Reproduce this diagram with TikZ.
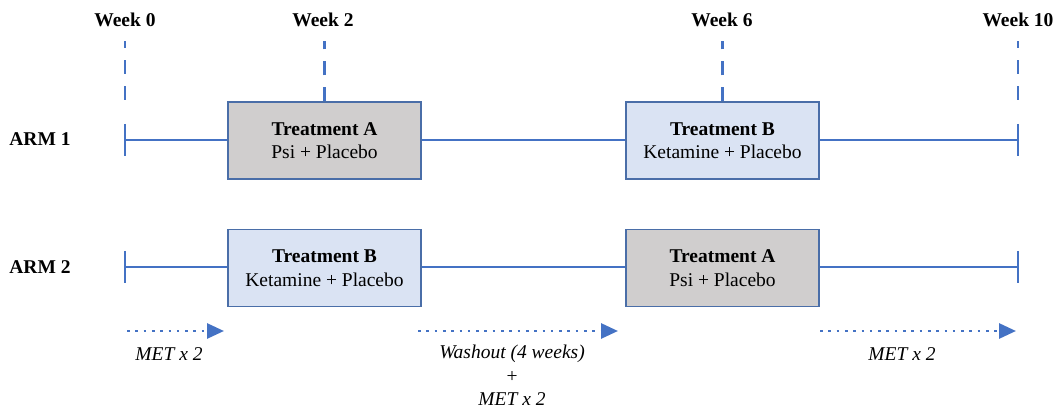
\documentclass[tikz,border=0pt]{standalone}
\usepackage{fontspec}
\setmainfont{Liberation Serif}
\usetikzlibrary{arrows.meta}
\definecolor{lineblue}{HTML}{4472C4}
\definecolor{boxedge}{HTML}{4A6EA8}
\definecolor{fillA}{HTML}{D0CECE}
\definecolor{fillB}{HTML}{DAE3F3}
\tikzset{
  every node/.style={font=\fontsize{19.5}{23.5}\selectfont, inner sep=0pt},
  weeklbl/.style={font=\fontsize{19.5}{23.5}\selectfont\bfseries},
  armlbl/.style={font=\fontsize{19.5}{23.5}\selectfont\bfseries},
  trtbox/.style={draw=boxedge, line width=1.3pt, minimum width=193pt, minimum height=77pt, align=center},
  trtA/.style={trtbox, fill=fillA},
  trtB/.style={trtbox, fill=fillB},
  armline/.style={draw=lineblue, line width=2.3pt},
  tickline/.style={draw=lineblue, line width=2.6pt},
  weekdash/.style={draw=lineblue, line width=2.6pt, dash pattern=on 14pt off 12pt},
  metarrow/.style={draw=lineblue, line width=2.8pt, dash pattern=on 2.6pt off 5.7pt, -{Triangle[length=17pt,width=15pt,fill=lineblue]}},
  metlbl/.style={font=\fontsize{19.5}{23.5}\selectfont\itshape, align=center}
}
\begin{document}
\begin{tikzpicture}[x=1pt,y=1pt]
\useasboundingbox (0,0) rectangle (1060,-411);
% week labels
\node[weeklbl] (w0) at (125,-20) {Week 0};
\node[weeklbl] (w2) at (323,-20) {Week 2};
\node[weeklbl] (w6) at (722,-20) {Week 6};
\node[weeklbl] (w10) at (1018,-20) {Week 10};
% arm labels
\node[armlbl] (arm1) at (40,-139) {ARM 1};
\node[armlbl] (arm2) at (40,-267) {ARM 2};
% treatment boxes
\node[trtA] (a1) at (324.5,-140.5) {\textbf{Treatment A}\\Psi + Placebo};
\node[trtB] (b1) at (722.5,-140.5) {\textbf{Treatment B}\\Ketamine + Placebo};
\node[trtB] (b2) at (324.5,-268) {\textbf{Treatment B}\\Ketamine + Placebo};
\node[trtA] (a2) at (722.5,-268) {\textbf{Treatment A}\\Psi + Placebo};
% timeline endpoints
\coordinate (s1) at (125,-140);
\coordinate (e1) at (1018,-140);
\coordinate (s2) at (125,-267);
\coordinate (e2) at (1018,-267);
\coordinate (dtop) at (0,-41);
% arm lines
\draw[armline] (s1) -- (a1.west |- s1);
\draw[armline] (a1.east |- s1) -- (b1.west |- s1);
\draw[armline] (b1.east |- s1) -- (e1);
\draw[armline] (s2) -- (b2.west |- s2);
\draw[armline] (b2.east |- s2) -- (a2.west |- s2);
\draw[armline] (a2.east |- s2) -- (e2);
% end ticks
\draw[tickline] ([yshift=16pt]s1) -- ([yshift=-16pt]s1);
\draw[tickline] ([yshift=16pt]e1) -- ([yshift=-16pt]e1);
\draw[tickline] ([yshift=16pt]s2) -- ([yshift=-16pt]s2);
\draw[tickline] ([yshift=16pt]e2) -- ([yshift=-16pt]e2);
% dashed week markers
\draw[weekdash] ([yshift=40pt]s1) -- (s1 |- dtop);
\draw[weekdash] (a1.north) -- (a1.north |- dtop);
\draw[weekdash] (b1.north) -- (b1.north |- dtop);
\draw[weekdash] ([yshift=40pt]e1) -- (e1 |- dtop);
% MET arrows
\coordinate (m1s) at (127,-331);
\coordinate (m1e) at (224,-331);
\coordinate (m2s) at (418,-331);
\coordinate (m2e) at (618,-331);
\coordinate (m3s) at (820,-331);
\coordinate (m3e) at (1016,-331);
\draw[metarrow] (m1s) -- (m1e);
\draw[metarrow] (m2s) -- (m2e);
\draw[metarrow] (m3s) -- (m3e);
% MET labels
\node[metlbl] (l1) at (169,-354) {MET x 2};
\node[metlbl, anchor=north] (l2) at (512,-345) {Washout (4 weeks)\\+\\MET x 2};
\node[metlbl] (l3) at (902,-354) {MET x 2};
\end{tikzpicture}
\end{document}
